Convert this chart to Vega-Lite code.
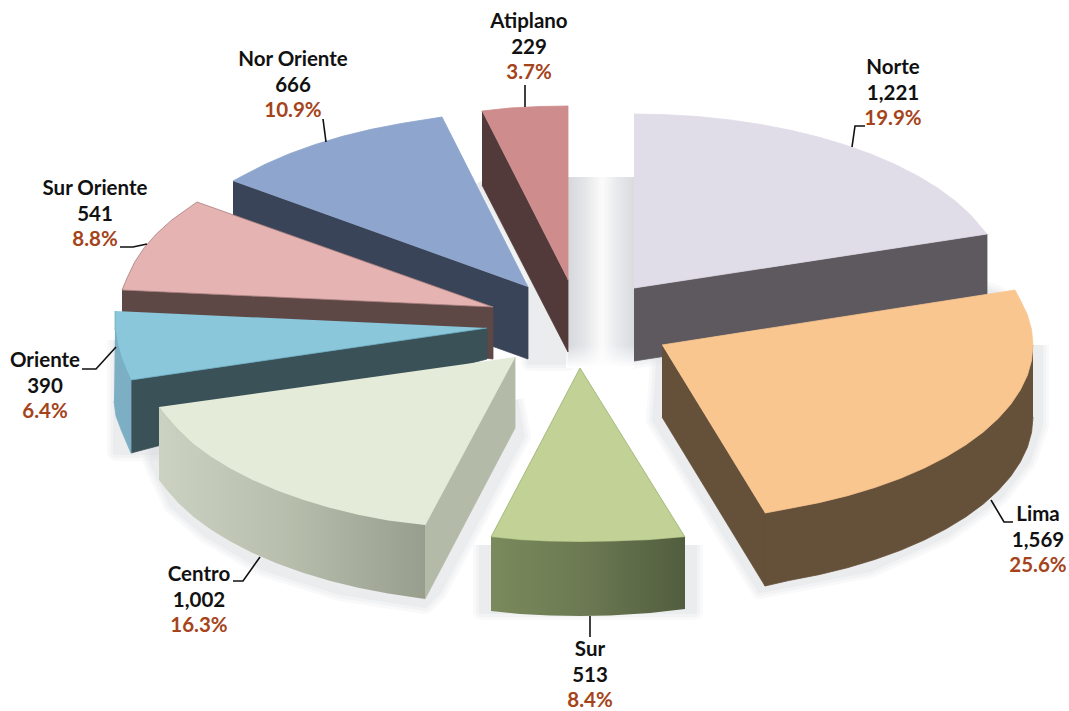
{"$schema":"https://vega.github.io/schema/vega-lite/v6.json","width":1069,"height":711,"padding":0,"autosize":{"type":"none"},"background":"white","config":{"view":{"stroke":null}},
"datasets":{
"shadow":[
{"face":"centro","i":0,"x":160,"y":420},{"face":"centro","i":1,"x":152,"y":462},{"face":"centro","i":2,"x":172,"y":505},{"face":"centro","i":3,"x":207,"y":535},{"face":"centro","i":4,"x":264,"y":568},{"face":"centro","i":5,"x":340,"y":592},{"face":"centro","i":6,"x":425,"y":605},{"face":"centro","i":7,"x":438,"y":592},{"face":"centro","i":8,"x":522,"y":436},{"face":"centro","i":9,"x":515,"y":400},
{"face":"sur","i":0,"x":482,"y":545},{"face":"sur","i":1,"x":482,"y":611},{"face":"sur","i":2,"x":694,"y":611},{"face":"sur","i":3,"x":694,"y":545},
{"face":"lima","i":0,"x":660,"y":350},{"face":"lima","i":1,"x":655,"y":420},{"face":"lima","i":2,"x":760,"y":590},{"face":"lima","i":3,"x":870,"y":569},{"face":"lima","i":4,"x":945,"y":535},{"face":"lima","i":5,"x":1000,"y":496},{"face":"lima","i":6,"x":1028,"y":460},{"face":"lima","i":7,"x":1040,"y":425},{"face":"lima","i":8,"x":1040,"y":345},
{"face":"oriente","i":0,"x":116,"y":340},{"face":"oriente","i":1,"x":116,"y":452},{"face":"oriente","i":2,"x":160,"y":452},{"face":"oriente","i":3,"x":160,"y":400},
{"face":"norOriente","i":0,"x":480,"y":182},{"face":"norOriente","i":1,"x":568,"y":345},{"face":"norOriente","i":2,"x":568,"y":362},{"face":"norOriente","i":3,"x":530,"y":362},{"face":"norOriente","i":4,"x":530,"y":280},
{"face":"norte","i":0,"x":630,"y":360},{"face":"norte","i":1,"x":990,"y":306},{"face":"norte","i":2,"x":998,"y":295},{"face":"norte","i":3,"x":985,"y":290},{"face":"norte","i":4,"x":630,"y":340}
],
"gap":[
{"face":"gap","i":0,"x":568,"y":177},{"face":"gap","i":1,"x":634,"y":177},{"face":"gap","i":2,"x":634,"y":366},{"face":"gap","i":3,"x":568,"y":366}
],
"gapFade":[
{"face":"fade","i":0,"x":566,"y":345},{"face":"fade","i":1,"x":634,"y":345},{"face":"fade","i":2,"x":634,"y":368},{"face":"fade","i":3,"x":566,"y":368}
],
"outlines":[
{"face":"Norte side","i":0,"x":634,"y":288},{"face":"Norte side","i":1,"x":987,"y":234},{"face":"Norte side","i":2,"x":987,"y":306},{"face":"Norte side","i":3,"x":634,"y":361},
{"face":"Norte top","i":0,"x":634,"y":114},{"face":"Norte top","i":1,"x":666.4,"y":114.7},{"face":"Norte top","i":2,"x":698.4,"y":116.6},{"face":"Norte top","i":3,"x":730,"y":119.9},{"face":"Norte top","i":4,"x":760.9,"y":124.5},{"face":"Norte top","i":5,"x":790.8,"y":130.3},{"face":"Norte top","i":6,"x":819.5,"y":137.3},{"face":"Norte top","i":7,"x":846.8,"y":145.5},{"face":"Norte top","i":8,"x":872.5,"y":154.7},{"face":"Norte top","i":9,"x":896.3,"y":165},{"face":"Norte top","i":10,"x":918.2,"y":176.2},{"face":"Norte top","i":11,"x":937.9,"y":188.2},{"face":"Norte top","i":12,"x":955.3,"y":201},{"face":"Norte top","i":13,"x":970.2,"y":214.5},{"face":"Norte top","i":14,"x":987,"y":234},{"face":"Norte top","i":15,"x":634,"y":288},
{"face":"Atiplano side","i":0,"x":482,"y":111},{"face":"Atiplano side","i":1,"x":568,"y":280},{"face":"Atiplano side","i":2,"x":568,"y":352},{"face":"Atiplano side","i":3,"x":482,"y":185},
{"face":"Atiplano top","i":0,"x":482,"y":111},{"face":"Atiplano top","i":1,"x":510,"y":108},{"face":"Atiplano top","i":2,"x":540,"y":106.5},{"face":"Atiplano top","i":3,"x":568,"y":106},{"face":"Atiplano top","i":4,"x":568,"y":280},
{"face":"Nor Oriente side","i":0,"x":233,"y":181},{"face":"Nor Oriente side","i":1,"x":528,"y":287},{"face":"Nor Oriente side","i":2,"x":528,"y":359},{"face":"Nor Oriente side","i":3,"x":233,"y":253},
{"face":"Nor Oriente top","i":0,"x":233,"y":181},{"face":"Nor Oriente top","i":1,"x":243.8,"y":175.2},{"face":"Nor Oriente top","i":2,"x":265.7,"y":164},{"face":"Nor Oriente top","i":3,"x":289.5,"y":153.7},{"face":"Nor Oriente top","i":4,"x":315.2,"y":144.5},{"face":"Nor Oriente top","i":5,"x":342.5,"y":136.3},{"face":"Nor Oriente top","i":6,"x":371.2,"y":129.3},{"face":"Nor Oriente top","i":7,"x":401.1,"y":123.5},{"face":"Nor Oriente top","i":8,"x":442,"y":117},{"face":"Nor Oriente top","i":9,"x":528,"y":287},
{"face":"Sur Oriente side","i":0,"x":122,"y":290},{"face":"Sur Oriente side","i":1,"x":493,"y":307},{"face":"Sur Oriente side","i":2,"x":493,"y":359},{"face":"Sur Oriente side","i":3,"x":122,"y":312},
{"face":"Sur Oriente top","i":0,"x":122,"y":290},{"face":"Sur Oriente top","i":1,"x":127.6,"y":276.8},{"face":"Sur Oriente top","i":2,"x":134.7,"y":262},{"face":"Sur Oriente top","i":3,"x":144.4,"y":247.5},{"face":"Sur Oriente top","i":4,"x":156.8,"y":233.5},{"face":"Sur Oriente top","i":5,"x":171.7,"y":220},{"face":"Sur Oriente top","i":6,"x":197,"y":202},{"face":"Sur Oriente top","i":7,"x":493,"y":307},{"face":"Sur Oriente top","i":8,"x":122,"y":290},
{"face":"Oriente inner","i":0,"x":131,"y":380},{"face":"Oriente inner","i":1,"x":487,"y":328},{"face":"Oriente inner","i":2,"x":487,"y":359},{"face":"Oriente inner","i":3,"x":131,"y":453},
{"face":"Oriente outer","i":0,"x":115,"y":328},{"face":"Oriente outer","i":1,"x":117.4,"y":343},{"face":"Oriente outer","i":2,"x":121.6,"y":358},{"face":"Oriente outer","i":3,"x":131,"y":380},{"face":"Oriente outer","i":4,"x":131,"y":453},{"face":"Oriente outer","i":5,"x":121.6,"y":431},{"face":"Oriente outer","i":6,"x":116,"y":416},{"face":"Oriente outer","i":7,"x":114,"y":401},
{"face":"Oriente top","i":0,"x":115,"y":311},{"face":"Oriente top","i":1,"x":115,"y":328},{"face":"Oriente top","i":2,"x":117.4,"y":343},{"face":"Oriente top","i":3,"x":121.6,"y":358},{"face":"Oriente top","i":4,"x":126,"y":369},{"face":"Oriente top","i":5,"x":131,"y":380},{"face":"Oriente top","i":6,"x":487,"y":328},
{"face":"Lima inner","i":0,"x":662,"y":345},{"face":"Lima inner","i":1,"x":765,"y":513},{"face":"Lima inner","i":2,"x":765,"y":586},{"face":"Lima inner","i":3,"x":662,"y":417},
{"face":"Lima outer","i":0,"x":1033,"y":345},{"face":"Lima outer","i":1,"x":998.2,"y":418.5},{"face":"Lima outer","i":2,"x":900.5,"y":478.3},{"face":"Lima outer","i":3,"x":765,"y":513},{"face":"Lima outer","i":4,"x":765,"y":586},{"face":"Lima outer","i":5,"x":788.9,"y":580.5},{"face":"Lima outer","i":6,"x":818.8,"y":574.7},{"face":"Lima outer","i":7,"x":847.5,"y":567.7},{"face":"Lima outer","i":8,"x":874.8,"y":559.5},{"face":"Lima outer","i":9,"x":900.5,"y":550.3},{"face":"Lima outer","i":10,"x":924.3,"y":540},{"face":"Lima outer","i":11,"x":946.2,"y":528.8},{"face":"Lima outer","i":12,"x":965.9,"y":516.8},{"face":"Lima outer","i":13,"x":983.3,"y":504},{"face":"Lima outer","i":14,"x":998.2,"y":490.5},{"face":"Lima outer","i":15,"x":1010.6,"y":476.5},{"face":"Lima outer","i":16,"x":1020.3,"y":462},{"face":"Lima outer","i":17,"x":1027.4,"y":447.2},{"face":"Lima outer","i":18,"x":1031.6,"y":432.2},{"face":"Lima outer","i":19,"x":1033,"y":417},
{"face":"Lima top","i":0,"x":662,"y":345},{"face":"Lima top","i":1,"x":1015,"y":290},{"face":"Lima top","i":2,"x":1020.3,"y":300},{"face":"Lima top","i":3,"x":1027.4,"y":314.8},{"face":"Lima top","i":4,"x":1031.6,"y":329.8},{"face":"Lima top","i":5,"x":1033,"y":345},{"face":"Lima top","i":6,"x":1031.6,"y":360.2},{"face":"Lima top","i":7,"x":1027.4,"y":375.2},{"face":"Lima top","i":8,"x":1020.3,"y":390},{"face":"Lima top","i":9,"x":1010.6,"y":404.5},{"face":"Lima top","i":10,"x":998.2,"y":418.5},{"face":"Lima top","i":11,"x":983.3,"y":432},{"face":"Lima top","i":12,"x":965.9,"y":444.8},{"face":"Lima top","i":13,"x":946.2,"y":456.8},{"face":"Lima top","i":14,"x":924.3,"y":468},{"face":"Lima top","i":15,"x":900.5,"y":478.3},{"face":"Lima top","i":16,"x":874.8,"y":487.5},{"face":"Lima top","i":17,"x":847.5,"y":495.7},{"face":"Lima top","i":18,"x":818.8,"y":502.7},{"face":"Lima top","i":19,"x":788.9,"y":508.5},{"face":"Lima top","i":20,"x":765,"y":513},
{"face":"Centro inner","i":0,"x":425,"y":525},{"face":"Centro inner","i":1,"x":515,"y":357},{"face":"Centro inner","i":2,"x":515,"y":428},{"face":"Centro inner","i":3,"x":425,"y":599},
{"face":"Centro top","i":0,"x":159,"y":407},{"face":"Centro top","i":1,"x":166.4,"y":416.5},{"face":"Centro top","i":2,"x":178.8,"y":430.5},{"face":"Centro top","i":3,"x":193.7,"y":444},{"face":"Centro top","i":4,"x":211.1,"y":456.8},{"face":"Centro top","i":5,"x":230.8,"y":468.8},{"face":"Centro top","i":6,"x":252.7,"y":480},{"face":"Centro top","i":7,"x":276.5,"y":490.3},{"face":"Centro top","i":8,"x":302.2,"y":499.5},{"face":"Centro top","i":9,"x":329.5,"y":507.7},{"face":"Centro top","i":10,"x":358.2,"y":514.7},{"face":"Centro top","i":11,"x":388.1,"y":520.5},{"face":"Centro top","i":12,"x":425,"y":525},{"face":"Centro top","i":13,"x":515,"y":357},
{"face":"Sur top","i":0,"x":580,"y":368},{"face":"Sur top","i":1,"x":491,"y":537},{"face":"Sur top","i":2,"x":520,"y":540},{"face":"Sur top","i":3,"x":550,"y":541.5},{"face":"Sur top","i":4,"x":580,"y":542},{"face":"Sur top","i":5,"x":610,"y":541.5},{"face":"Sur top","i":6,"x":650,"y":540},{"face":"Sur top","i":7,"x":685,"y":537},{"face":"Sur top","i":8,"x":580,"y":368}
],
"centroSide":[
{"face":"Centro outer","i":0,"x":159,"y":407},{"face":"Centro outer","i":1,"x":166.4,"y":416.5},{"face":"Centro outer","i":2,"x":178.8,"y":430.5},{"face":"Centro outer","i":3,"x":193.7,"y":444},{"face":"Centro outer","i":4,"x":211.1,"y":456.8},{"face":"Centro outer","i":5,"x":230.8,"y":468.8},{"face":"Centro outer","i":6,"x":252.7,"y":480},{"face":"Centro outer","i":7,"x":276.5,"y":490.3},{"face":"Centro outer","i":8,"x":302.2,"y":499.5},{"face":"Centro outer","i":9,"x":329.5,"y":507.7},{"face":"Centro outer","i":10,"x":358.2,"y":514.7},{"face":"Centro outer","i":11,"x":388.1,"y":520.5},{"face":"Centro outer","i":12,"x":425,"y":525},{"face":"Centro outer","i":13,"x":425,"y":599},{"face":"Centro outer","i":14,"x":388.1,"y":593.5},{"face":"Centro outer","i":15,"x":358.2,"y":587.7},{"face":"Centro outer","i":16,"x":329.5,"y":580.7},{"face":"Centro outer","i":17,"x":302.2,"y":572.5},{"face":"Centro outer","i":18,"x":276.5,"y":563.3},{"face":"Centro outer","i":19,"x":252.7,"y":553},{"face":"Centro outer","i":20,"x":230.8,"y":541.8},{"face":"Centro outer","i":21,"x":211.1,"y":529.8},{"face":"Centro outer","i":22,"x":193.7,"y":517},{"face":"Centro outer","i":23,"x":178.8,"y":503.5},{"face":"Centro outer","i":24,"x":166.4,"y":489.5},{"face":"Centro outer","i":25,"x":159,"y":480}
],
"surSide":[
{"face":"Sur outer","i":0,"x":491,"y":537},{"face":"Sur outer","i":1,"x":520,"y":540},{"face":"Sur outer","i":2,"x":550,"y":541.5},{"face":"Sur outer","i":3,"x":580,"y":542},{"face":"Sur outer","i":4,"x":610,"y":541.5},{"face":"Sur outer","i":5,"x":650,"y":540},{"face":"Sur outer","i":6,"x":685,"y":537},{"face":"Sur outer","i":7,"x":685,"y":609},{"face":"Sur outer","i":8,"x":650,"y":613},{"face":"Sur outer","i":9,"x":610,"y":615.5},{"face":"Sur outer","i":10,"x":580,"y":616},{"face":"Sur outer","i":11,"x":550,"y":615.5},{"face":"Sur outer","i":12,"x":520,"y":614},{"face":"Sur outer","i":13,"x":491,"y":611}
],
"leaders":[
{"region":"Atiplano","i":0,"x":525,"y":85},{"region":"Atiplano","i":1,"x":525,"y":107},
{"region":"Nor Oriente","i":0,"x":323,"y":119},{"region":"Nor Oriente","i":1,"x":326,"y":142},
{"region":"Norte","i":0,"x":865,"y":126},{"region":"Norte","i":1,"x":855,"y":126},{"region":"Norte","i":2,"x":852,"y":147},
{"region":"Sur Oriente","i":0,"x":120,"y":247},{"region":"Sur Oriente","i":1,"x":133,"y":247},{"region":"Sur Oriente","i":2,"x":147,"y":244},
{"region":"Oriente","i":0,"x":82,"y":369},{"region":"Oriente","i":1,"x":96,"y":369},{"region":"Oriente","i":2,"x":116,"y":347},
{"region":"Centro","i":0,"x":233,"y":581},{"region":"Centro","i":1,"x":243,"y":581},{"region":"Centro","i":2,"x":260,"y":557},
{"region":"Lima","i":0,"x":991,"y":500},{"region":"Lima","i":1,"x":1004,"y":522},{"region":"Lima","i":2,"x":1013,"y":522},
{"region":"Sur","i":0,"x":590,"y":616},{"region":"Sur","i":1,"x":590,"y":637}
],
"labels":[
{"region":"Atiplano","value":229,"share":0.037,"lx":529,"ly":22},
{"region":"Nor Oriente","value":666,"share":0.109,"lx":293,"ly":60},
{"region":"Norte","value":1221,"share":0.199,"lx":893,"ly":68},
{"region":"Sur Oriente","value":541,"share":0.088,"lx":95,"ly":189},
{"region":"Oriente","value":390,"share":0.064,"lx":45,"ly":361},
{"region":"Lima","value":1569,"share":0.256,"lx":1038,"ly":515},
{"region":"Centro","value":1002,"share":0.163,"lx":199,"ly":575},
{"region":"Sur","value":513,"share":0.084,"lx":590,"ly":650}
]},
"encoding":{
"x":{"field":"x","type":"quantitative","scale":{"domain":[0,1069]},"axis":null},
"y":{"field":"y","type":"quantitative","scale":{"domain":[711,0]},"axis":null}},
"layer":[
{"data":{"name":"shadow"},"mark":{"type":"line","fill":"#d8dade","stroke":"#d8dade","strokeWidth":18,"opacity":0.14,"strokeJoin":"round"},"encoding":{"detail":{"field":"face"},"order":{"field":"i"}}},
{"data":{"name":"shadow"},"mark":{"type":"line","fill":"#d8dade","stroke":"#d8dade","strokeWidth":12,"opacity":0.18,"strokeJoin":"round"},"encoding":{"detail":{"field":"face"},"order":{"field":"i"}}},
{"data":{"name":"shadow"},"mark":{"type":"line","fill":"#d8dade","stroke":"#d8dade","strokeWidth":6,"opacity":0.25,"strokeJoin":"round"},"encoding":{"detail":{"field":"face"},"order":{"field":"i"}}},
{"data":{"name":"gap"},"mark":{"type":"line","fill":{"gradient":"linear","x1":0,"x2":1,"y1":0,"y2":0,"stops":[{"offset":0,"color":"#d6d8dc"},{"offset":0.22,"color":"#e2e3e6"},{"offset":0.52,"color":"#fbfbfb"},{"offset":0.75,"color":"#e8e9ec"},{"offset":1,"color":"#d9dbdf"}]},"strokeWidth":0},"encoding":{"detail":{"field":"face"},"order":{"field":"i"}}},
{"data":{"name":"gapFade"},"mark":{"type":"line","fill":{"gradient":"linear","x1":0,"x2":0,"y1":0,"y2":1,"stops":[{"offset":0,"color":"#ffffff00"},{"offset":1,"color":"#ffffff"}]},"strokeWidth":0},"encoding":{"detail":{"field":"face"},"order":{"field":"i"}}},
{"data":{"name":"outlines"},"mark":{"type":"line","filled":true,"strokeWidth":0.8},"encoding":{"order":{"field":"i"},
"color":{"field":"face","type":"nominal","legend":null,"scale":{"domain":["Norte side","Norte top","Atiplano side","Atiplano top","Nor Oriente side","Nor Oriente top","Sur Oriente side","Sur Oriente top","Oriente inner","Oriente outer","Oriente top","Lima inner","Lima outer","Lima top","Centro inner","Centro top","Sur top"],"range":["#5e595f","#e0dce8","#533a3a","#ce8c8c","#3a4458","#8ea5cd","#5e4846","#e4b3b2","#3b5158","#7cafc3","#8ac7da","#655039","#655039","#fac690","#b3baa8","#e4ebd8","#c2d296"]}},
"stroke":{"field":"face","type":"nominal","legend":null,"scale":{"domain":["Norte side","Norte top","Atiplano side","Atiplano top","Nor Oriente side","Nor Oriente top","Sur Oriente side","Sur Oriente top","Oriente inner","Oriente outer","Oriente top","Lima inner","Lima outer","Lima top","Centro inner","Centro top","Sur top"],"range":["#5e595f","#e0dce8","#533a3a","#ce8c8c","#3a4458","#8ea5cd","#5e4846","#a87f7e","#3b5158","#7cafc3","#6fb0c6","#655039","#655039","#fac690","#b3baa8","#e4ebd8","#98b06c"]}}}},
{"data":{"name":"centroSide"},"mark":{"type":"line","fill":{"gradient":"linear","x1":0,"x2":1,"y1":0,"y2":0,"stops":[{"offset":0,"color":"#ccd2c2"},{"offset":0.5,"color":"#b6bdab"},{"offset":1,"color":"#989e8e"}]},"strokeWidth":0},"encoding":{"detail":{"field":"face"},"order":{"field":"i"}}},
{"data":{"name":"surSide"},"mark":{"type":"line","fill":{"gradient":"linear","x1":0,"x2":1,"y1":0,"y2":0,"stops":[{"offset":0,"color":"#7b8a5c"},{"offset":0.5,"color":"#6b7852"},{"offset":1,"color":"#515d3e"}]},"strokeWidth":0},"encoding":{"detail":{"field":"face"},"order":{"field":"i"}}},
{"data":{"name":"leaders"},"mark":{"type":"line","color":"#111111","strokeWidth":1.6},"encoding":{"detail":{"field":"region"},"order":{"field":"i"}}},
{"data":{"name":"labels"},"mark":{"type":"text","font":"Lato","fontWeight":"bold","fontSize":20.5,"color":"#111111"},"encoding":{"x":{"field":"lx","type":"quantitative"},"y":{"field":"ly","type":"quantitative"},"text":{"field":"region"}}},
{"data":{"name":"labels"},"mark":{"type":"text","font":"Lato","fontWeight":"bold","fontSize":20.5,"color":"#111111","dy":26},"encoding":{"x":{"field":"lx","type":"quantitative"},"y":{"field":"ly","type":"quantitative"},"text":{"field":"value","format":","}}},
{"data":{"name":"labels"},"mark":{"type":"text","font":"Lato","fontWeight":"bold","fontSize":20.5,"color":"#a5431a","dy":51},"encoding":{"x":{"field":"lx","type":"quantitative"},"y":{"field":"ly","type":"quantitative"},"text":{"field":"share","type":"quantitative","format":".1%"}}}
]}
